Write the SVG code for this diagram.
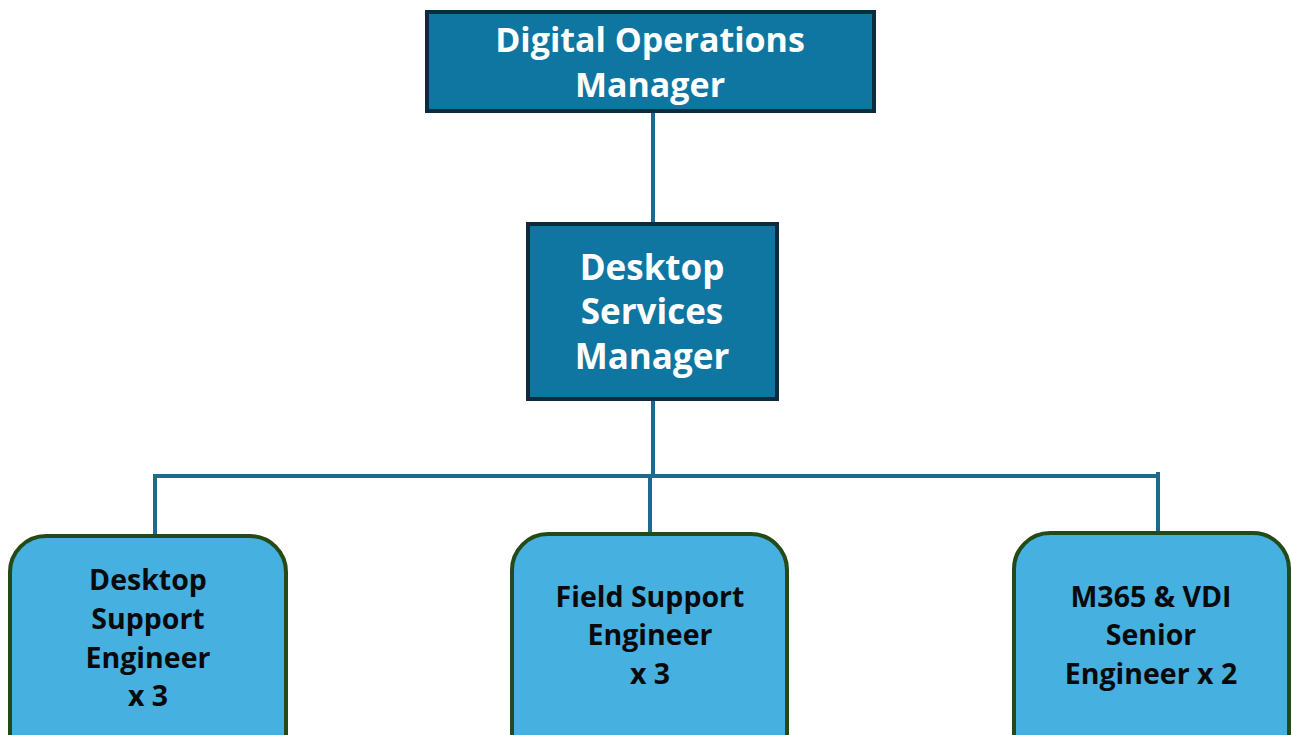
<svg xmlns="http://www.w3.org/2000/svg" width="1292" height="735" viewBox="0 0 1292 735">
<style>
.mgr{fill:#0f76a1;stroke:#0c2b3e;stroke-width:4}
.eng{fill:#46b0e1;stroke:#244a18;stroke-width:4}
.wt{font-family:"Open Sans",sans-serif;font-weight:700;font-size:34px;fill:#ffffff;text-anchor:middle}
.wm{font-size:35px}
.bt{font-family:"Open Sans",sans-serif;font-weight:700;font-size:28.5px;fill:#0a0a0a;text-anchor:middle}
.ln{stroke:#1d6a8e;stroke-width:4;fill:none}
</style>
<rect width="1292" height="735" fill="#ffffff"/>
<g id="connectors">
<line class="ln" x1="653" y1="112" x2="653" y2="223"/>
<line class="ln" x1="653" y1="400" x2="653" y2="476"/>
<line class="ln" x1="155" y1="476" x2="1158" y2="476"/>
<line class="ln" x1="155" y1="474" x2="155" y2="535"/>
<line class="ln" x1="650" y1="476" x2="650" y2="533"/>
<line class="ln" x1="1158" y1="472" x2="1158" y2="533"/>
</g>
<g id="digital-operations-manager">
<rect class="mgr" x="427" y="12" width="447" height="99"/>
<text class="wt" x="650" y="52">Digital Operations</text>
<text class="wt" x="650" y="97">Manager</text>
</g>
<g id="desktop-services-manager">
<rect class="mgr" x="528" y="224" width="249" height="175"/>
<text class="wt wm" x="652" y="280">Desktop</text>
<text class="wt wm" x="652" y="324">Services</text>
<text class="wt wm" x="652" y="369">Manager</text>
</g>
<g id="desktop-support-engineer">
<rect class="eng" x="10" y="536" width="276" height="240" rx="36"/>
<text class="bt" x="148" y="590">Desktop</text>
<text class="bt" x="148" y="629">Support</text>
<text class="bt" x="148" y="668">Engineer</text>
<text class="bt" x="148" y="706">x 3</text>
</g>
<g id="field-support-engineer">
<rect class="eng" x="512" y="534" width="275" height="240" rx="36"/>
<text class="bt" x="650" y="607">Field Support</text>
<text class="bt" x="650" y="645">Engineer</text>
<text class="bt" x="650" y="684">x 3</text>
</g>
<g id="m365-vdi-senior-engineer">
<rect class="eng" x="1014" y="533" width="275" height="240" rx="36"/>
<text class="bt" x="1151" y="607">M365 &amp; VDI</text>
<text class="bt" x="1151" y="645">Senior</text>
<text class="bt" x="1151" y="684">Engineer x 2</text>
</g>
</svg>
